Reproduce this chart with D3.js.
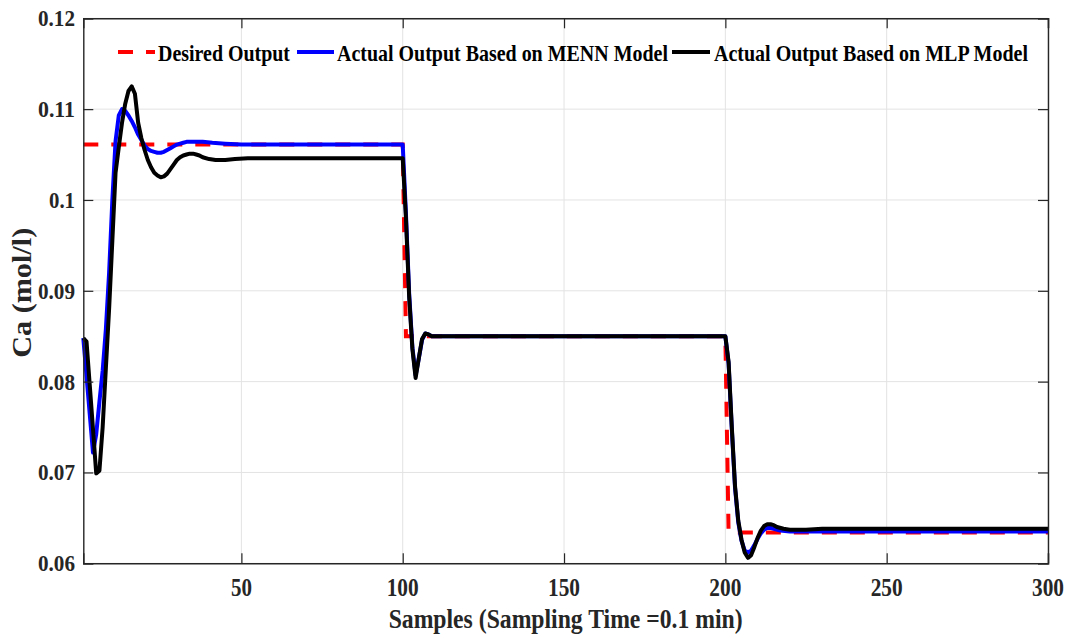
<!DOCTYPE html>
<html>
<head>
<meta charset="utf-8">
<script src="https://cdn.jsdelivr.net/npm/d3@7"></script>
<style>
  html, body { margin: 0; padding: 0; background: #fff; }
  svg text { font-family: "Liberation Serif", "Times New Roman", serif; font-weight: bold; fill: #262626; }
</style>
</head>
<body>
<svg id="chart" width="1070" height="638"></svg>
<script>
// ---- Data ----
const xTicks = [50, 100, 150, 200, 250, 300];
const yTicks = [0.06, 0.07, 0.08, 0.09, 0.1, 0.11, 0.12];
const yTickLabels = ["0.06", "0.07", "0.08", "0.09", "0.1", "0.11", "0.12"];

const seriesNames = ["Desired Output", "Actual Output Based on MENN Model", "Actual Output Based on MLP Model"];

const desiredX = [1, 100, 101, 200, 201, 300];
const desiredY = [0.1061, 0.1061, 0.0850, 0.0850, 0.0634, 0.0634];

const mennX = [1, 2, 3, 4, 5, 6, 7, 8, 9, 10, 11, 12, 13, 14, 15, 16, 17, 18, 19, 20,
  21, 22, 23, 24, 25, 26, 27, 28, 29, 30, 31, 32, 33, 35, 38, 41, 45, 50, 100,
  101, 102, 103, 104, 105, 106, 107, 108, 109, 110, 200,
  201, 202, 203, 204, 205, 206, 207, 208, 209, 210, 211, 212, 213, 214, 215, 217, 220, 300];
const mennY = [0.0848, 0.0806, 0.0764, 0.0722, 0.0742, 0.0778, 0.0812, 0.0858, 0.0920, 0.1000,
  0.1065, 0.1093, 0.1100, 0.1098, 0.1093, 0.1087, 0.1080, 0.1072, 0.1066, 0.1060,
  0.1056, 0.1054, 0.1053, 0.1052, 0.1052, 0.1053, 0.1055, 0.1057, 0.1059, 0.1061,
  0.1062, 0.1063, 0.1064, 0.1064, 0.1064, 0.1063, 0.1062, 0.1061, 0.1061,
  0.0985, 0.0897, 0.0838, 0.0807, 0.0826, 0.0846, 0.0853, 0.0852, 0.0850, 0.0850, 0.0850,
  0.0820, 0.0748, 0.0683, 0.0645, 0.0625, 0.0614, 0.0612, 0.0614, 0.0620, 0.0627,
  0.0633, 0.0637, 0.0639, 0.0639, 0.0638, 0.0636, 0.0635, 0.0635];

const mlpX = [1, 2, 3, 4, 5, 6, 7, 8, 9, 10, 11, 12, 13, 14, 15, 16, 17, 18, 19, 20,
  21, 22, 23, 24, 25, 26, 27, 28, 29, 30, 31, 32, 33, 34, 35, 36, 37, 38, 40, 42, 45, 48, 52, 100,
  101, 102, 103, 104, 105, 106, 107, 108, 109, 110, 200,
  201, 202, 203, 204, 205, 206, 207, 208, 209, 210, 211, 212, 213, 214, 215, 216, 218, 220, 225, 230, 300];
const mlpY = [0.0848, 0.0844, 0.0796, 0.0748, 0.0699, 0.0702, 0.0750, 0.0815, 0.0880, 0.0955,
  0.1030, 0.1058, 0.1085, 0.1106, 0.1120, 0.1125, 0.1117, 0.1085, 0.1068, 0.1055,
  0.1044, 0.1036, 0.1030, 0.1027, 0.1025, 0.1026, 0.1029, 0.1034, 0.1039, 0.1044,
  0.1047, 0.1049, 0.1050, 0.1051, 0.1051, 0.1050, 0.1049, 0.1047, 0.1045, 0.1044, 0.1044, 0.1045, 0.1046, 0.1046,
  0.0980, 0.0893, 0.0836, 0.0804, 0.0826, 0.0847, 0.0853, 0.0852, 0.0850, 0.0850, 0.0850,
  0.0822, 0.0750, 0.0685, 0.0647, 0.0626, 0.0612, 0.0606, 0.0609, 0.0618, 0.0628,
  0.0636, 0.0641, 0.0643, 0.0643, 0.0642, 0.0640, 0.0638, 0.0637, 0.0637, 0.0638, 0.0638];

// ---- Layout ----
const svg = d3.select("#chart");
const L = 83.3, R = 1048, T = 18.3, B = 563.3;
const x = d3.scaleLinear().domain([1, 300]).range([L, R]);
const y = d3.scaleLinear().domain([0.06, 0.12]).range([B, T]);
const axisColor = "#262626";
const tickLen = 10;

// grid
const grid = svg.append("g");
grid.selectAll("line.vg").data(xTicks).join("line")
  .attr("x1", d => x(d)).attr("x2", d => x(d)).attr("y1", T).attr("y2", B)
  .attr("stroke", "#e3e3e3").attr("stroke-width", 1);
grid.selectAll("line.hg").data(yTicks).join("line")
  .attr("x1", L).attr("x2", R).attr("y1", d => y(d)).attr("y2", d => y(d))
  .attr("stroke", "#e3e3e3").attr("stroke-width", 1);

// lines
const zip = (xs, ys) => xs.map((v, i) => [v, ys[i]]);
const line = d3.line().x(d => x(d[0])).y(d => y(d[1])).curve(d3.curveLinear);
const plot = svg.append("g");
plot.append("path").datum(zip(desiredX, desiredY)).attr("d", line)
  .attr("fill", "none").attr("stroke", "#ff0000").attr("stroke-width", 4)
  .attr("stroke-dasharray", "15,13");
plot.append("path").datum(zip(mennX, mennY)).attr("d", line)
  .attr("fill", "none").attr("stroke", "#0000ff").attr("stroke-width", 4)
  .attr("stroke-linejoin", "round");
plot.append("path").datum(zip(mlpX, mlpY)).attr("d", line)
  .attr("fill", "none").attr("stroke", "#000000").attr("stroke-width", 4)
  .attr("stroke-linejoin", "round");

// axes (inward ticks on all four sides, box)
const xAxis = d3.axisBottom(x).tickValues(xTicks).tickSize(-tickLen).tickFormat("");
const yAxis = d3.axisLeft(y).tickValues(yTicks).tickSize(-tickLen).tickFormat("");
const xTop = d3.axisTop(x).tickValues(xTicks).tickSize(-tickLen).tickFormat("");
const yRight = d3.axisRight(y).tickValues(yTicks).tickSize(-tickLen).tickFormat("");
[[xAxis, `translate(0,${B})`], [yAxis, `translate(${L},0)`], [xTop, `translate(0,${T})`], [yRight, `translate(${R},0)`]]
  .forEach(([ax, tr]) => {
    const g = svg.append("g").attr("transform", tr).call(ax);
    g.select(".domain").attr("stroke", axisColor).attr("stroke-width", 1.4);
    g.selectAll(".tick line").attr("stroke", axisColor).attr("stroke-width", 1.2);
  });

// tick labels
svg.append("g").selectAll("text").data(xTicks).join("text")
  .attr("x", d => x(d)).attr("y", 596)
  .attr("text-anchor", "middle").attr("font-size", 25)
  .attr("textLength", d => String(d).length === 2 ? 21 : 32)
  .attr("lengthAdjust", "spacingAndGlyphs")
  .text(d => d);
svg.append("g").selectAll("text").data(yTicks).join("text")
  .attr("x", 75).attr("y", d => y(d) + 8)
  .attr("text-anchor", "end").attr("font-size", 23)
  .attr("textLength", (d, i) => yTickLabels[i].length === 4 ? 37 : 26)
  .attr("lengthAdjust", "spacingAndGlyphs")
  .text((d, i) => yTickLabels[i]);

// axis titles
svg.append("text").attr("x", (L + R) / 2).attr("y", 628)
  .attr("text-anchor", "middle").attr("font-size", 27)
  .attr("textLength", 354).attr("lengthAdjust", "spacingAndGlyphs")
  .text("Samples (Sampling Time =0.1 min)");
svg.append("text").attr("transform", `translate(31,${(T + B) / 2 + 2}) rotate(-90)`)
  .attr("text-anchor", "middle").attr("font-size", 27)
  .attr("textLength", 130).attr("lengthAdjust", "spacingAndGlyphs")
  .text("Ca (mol/l)");

// legend
const legendItems = [
  { name: seriesNames[0], color: "#ff0000", dash: "15,13", x1: 118, x2: 155, tx: 158, tw: 132 },
  { name: seriesNames[1], color: "#0000ff", dash: null, x1: 297, x2: 334, tx: 337, tw: 331 },
  { name: seriesNames[2], color: "#000000", dash: null, x1: 672, x2: 710, tx: 714, tw: 314 }
];
const lg = svg.append("g");
legendItems.forEach(it => {
  lg.append("line").attr("x1", it.x1).attr("x2", it.x2).attr("y1", 52).attr("y2", 52)
    .attr("stroke", it.color).attr("stroke-width", 4)
    .attr("stroke-dasharray", it.dash);
  lg.append("text").attr("x", it.tx).attr("y", 61).attr("font-size", 22.5)
    .attr("textLength", it.tw).attr("lengthAdjust", "spacingAndGlyphs")
    .style("fill", "#000")
    .text(it.name);
});
</script>
</body>
</html>
